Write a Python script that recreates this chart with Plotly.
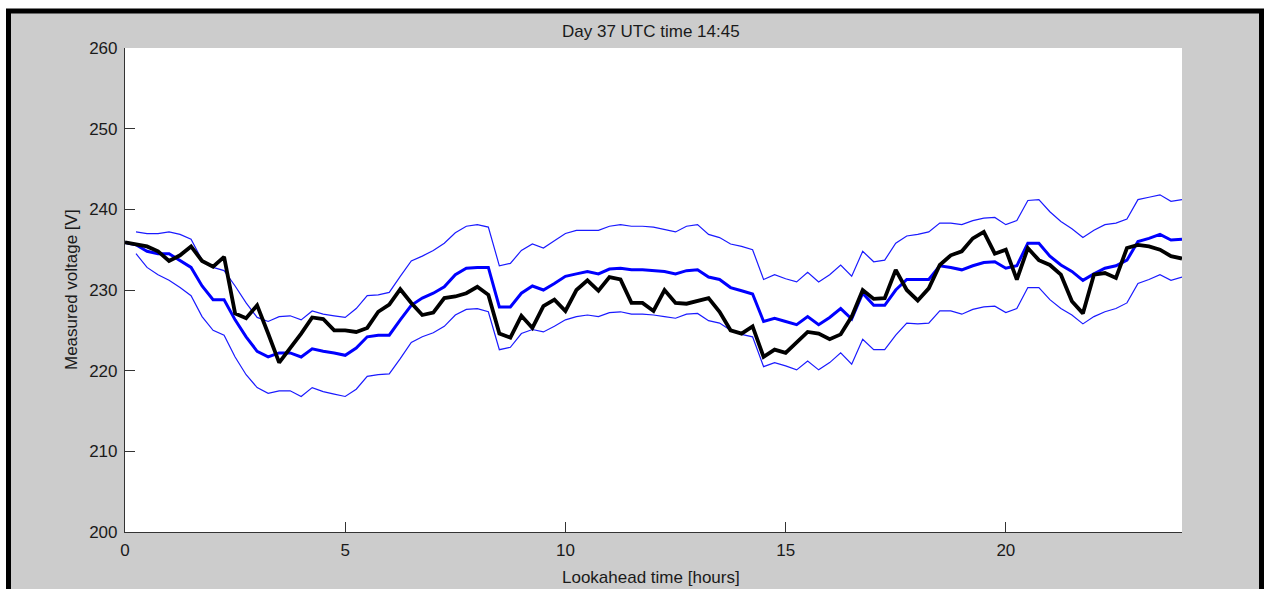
import plotly.graph_objects as go

# Lookahead time grid (15-minute steps, 0..24 h)
hours = [i * 0.25 for i in range(97)]

measured = [
    235.9, 235.7, 235.4, 234.8, 233.6, 234.3, 235.4, 233.6, 232.9, 234.1,
    227.1, 226.5, 228.1, 224.6, 221.0, 222.8, 224.6, 226.6, 226.4, 225.0,
    225.0, 224.8, 225.3, 227.3, 228.2, 230.1, 228.4, 226.9, 227.2, 229.0,
    229.2, 229.6, 230.4, 229.4, 224.6, 224.1, 226.8, 225.3, 228.0, 228.8,
    227.4, 230.0, 231.2, 229.9, 231.6, 231.3, 228.4, 228.4, 227.4, 230.0,
    228.4, 228.3, 228.6, 229.0, 227.3, 225.0, 224.6, 225.5, 221.7, 222.6,
    222.2, 223.5, 224.8, 224.6, 223.9, 224.5, 226.7, 230.0, 228.9, 229.0,
    232.5, 230.0, 228.7, 230.2, 233.1, 234.3, 234.8, 236.4, 237.2, 234.5,
    235.0, 231.3, 235.2, 233.7, 233.1, 231.9, 228.6, 227.1, 231.9, 232.1,
    231.5, 235.2, 235.6, 235.4, 235.0, 234.2, 233.9,
]

forecast = [
    235.9, 235.6, 234.8, 234.5, 234.5, 233.7, 232.8, 230.5, 228.8, 228.8,
    226.3, 224.2, 222.4, 221.7, 222.2, 222.2, 221.7, 222.7, 222.4, 222.2,
    221.9, 222.8, 224.2, 224.4, 224.4, 226.3, 228.1, 229.0, 229.6, 230.4,
    231.9, 232.7, 232.8, 232.8, 227.9, 227.9, 229.6, 230.5, 230.0, 230.8,
    231.7, 232.0, 232.3, 232.0, 232.6, 232.7, 232.5, 232.5, 232.4, 232.3,
    232.0, 232.4, 232.5, 231.6, 231.3, 230.3, 229.9, 229.5, 226.1, 226.5,
    226.1, 225.7, 226.7, 225.7, 226.6, 227.7, 226.4, 229.6, 228.1, 228.1,
    230.0, 231.3, 231.3, 231.3, 233.0, 232.8, 232.5, 233.0, 233.4, 233.5,
    232.7, 233.0, 235.8, 235.8, 234.2, 233.1, 232.3, 231.2, 232.0, 232.7,
    233.0, 233.7, 236.0, 236.4, 236.9, 236.2, 236.3,
]

upper = [
    None, 237.2, 237.0, 237.0, 237.2, 236.9, 236.3, 233.7, 232.8, 232.4,
    230.5, 228.4, 226.6, 226.1, 226.7, 226.8, 226.3, 227.4, 227.0, 226.8,
    226.6, 227.7, 229.3, 229.4, 229.7, 231.7, 233.6, 234.2, 234.9, 235.8,
    237.1, 237.9, 238.1, 237.8, 233.0, 233.3, 234.9, 235.7, 235.2, 236.1,
    237.0, 237.4, 237.4, 237.4, 237.9, 238.1, 237.9, 237.9, 237.8, 237.5,
    237.2, 237.9, 238.1, 236.9, 236.5, 235.7, 235.4, 235.0, 231.3, 231.9,
    231.4, 231.0, 232.2, 231.0, 231.9, 233.1, 231.7, 234.8, 233.5, 233.7,
    235.8, 236.7, 236.9, 237.2, 238.3, 238.3, 238.1, 238.6, 238.9, 239.0,
    238.1, 238.6, 241.1, 241.2, 239.7, 238.5, 237.6, 236.5, 237.4, 238.1,
    238.3, 238.8, 241.2, 241.5, 241.8, 241.0, 241.2,
]

lower = [
    None, 234.5, 232.8, 231.9, 231.2, 230.3, 229.3, 226.7, 225.0, 224.4,
    221.7, 219.5, 217.9, 217.2, 217.5, 217.5, 216.8, 217.9, 217.4, 217.1,
    216.8, 217.7, 219.3, 219.5, 219.6, 221.5, 223.5, 224.2, 224.7, 225.5,
    226.9, 227.6, 227.7, 227.3, 222.6, 222.9, 224.6, 225.1, 224.8, 225.5,
    226.3, 226.7, 226.9, 226.7, 227.2, 227.3, 227.0, 227.0, 226.9, 226.7,
    226.5, 227.0, 227.1, 226.2, 225.9, 225.0, 224.5, 224.2, 220.5, 221.0,
    220.6, 220.1, 221.2, 220.1, 221.0, 222.2, 220.8, 223.9, 222.6, 222.6,
    224.4, 225.9, 225.8, 225.9, 227.4, 227.4, 227.0, 227.6, 227.9, 228.0,
    227.2, 227.7, 230.3, 230.3, 228.8, 227.7, 226.9, 225.8, 226.7, 227.3,
    227.7, 228.4, 230.8, 231.3, 231.9, 231.2, 231.6,
]

x_ticks = [0, 5, 10, 15, 20]
y_ticks = [200, 210, 220, 230, 240, 250, 260]

title_text = "Day 37 UTC time 14:45"
x_label = "Lookahead time [hours]"
y_label = "Measured voltage [V]"

FONT = "Liberation Sans"
W, H = 1269, 589
L, R, T, B = 125, 87, 48, 57
pw, ph = W - L - R, H - T - B


def px_x(p):
    return (p - L) / pw


def px_y(p):
    return (H - B - p) / ph


fig = go.Figure()
fig.add_trace(go.Scatter(x=hours, y=upper, mode="lines",
                         line=dict(color="#1a1aff", width=1.2), showlegend=False))
fig.add_trace(go.Scatter(x=hours, y=lower, mode="lines",
                         line=dict(color="#1a1aff", width=1.2), showlegend=False))
fig.add_trace(go.Scatter(x=hours, y=forecast, mode="lines",
                         line=dict(color="#0000ff", width=3), showlegend=False))
fig.add_trace(go.Scatter(x=hours, y=measured, mode="lines",
                         line=dict(color="#000000", width=3.8), showlegend=False))

shapes = [
    dict(type="rect", xref="paper", yref="paper", layer="below",
         x0=px_x(8.5), x1=px_x(1261.5), y0=px_y(11), y1=px_y(640),
         fillcolor="#cccccc", line=dict(color="#000000", width=5)),
    dict(type="rect", xref="paper", yref="paper", layer="below",
         x0=0, x1=1, y0=0, y1=1, fillcolor="#ffffff", line=dict(width=0)),
]

annotations = [
    dict(text=title_text, xref="paper", yref="paper", x=px_x(650.5), y=px_y(31.5),
         xanchor="center", yanchor="middle", showarrow=False,
         font=dict(family=FONT, size=17, color="#1a1a1a")),
    dict(text=x_label, xref="paper", yref="paper", x=px_x(650.7), y=px_y(577),
         xanchor="center", yanchor="middle", showarrow=False,
         font=dict(family=FONT, size=17, color="#1a1a1a")),
    dict(text=y_label, xref="paper", yref="paper", x=px_x(71), y=px_y(290),
         xanchor="center", yanchor="middle", showarrow=False, textangle=-90,
         font=dict(family=FONT, size=17, color="#1a1a1a")),
]

axis_common = dict(showgrid=False, zeroline=False, showline=True, linecolor="#333333",
                   linewidth=1.2, ticks="inside", ticklen=10, tickwidth=1.2,
                   tickcolor="#333333", mirror=False,
                   tickfont=dict(family=FONT, size=17, color="#1a1a1a"))

fig.update_layout(
    width=W, height=H, autosize=False,
    margin=dict(l=L, r=R, t=T, b=B, pad=0),
    paper_bgcolor="#ffffff", plot_bgcolor="#ffffff",
    shapes=shapes, annotations=annotations, showlegend=False,
    xaxis=dict(range=[0, 24], tickvals=x_ticks, ticklabelstandoff=2, **axis_common),
    yaxis=dict(range=[200, 260], tickvals=y_ticks, ticklabelstandoff=3, **axis_common),
)

fig.write_html("out.html", post_script="document.body.style.margin='0';")
